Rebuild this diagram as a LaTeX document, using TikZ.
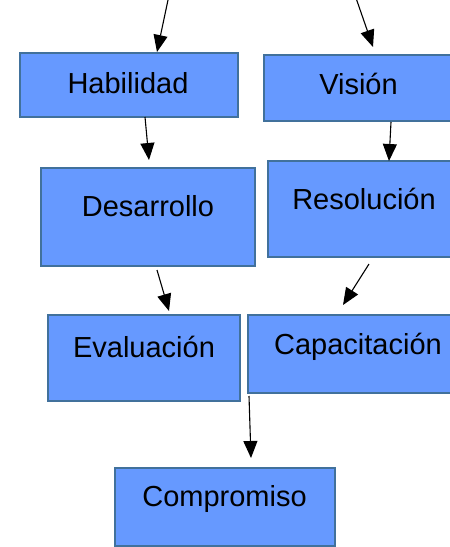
\documentclass[tikz,border=0pt]{standalone}
\usepackage{fontspec}
\setmainfont{Liberation Sans}
\usetikzlibrary{arrows.meta}
\definecolor{boxfill}{HTML}{6699FF}
\definecolor{boxline}{HTML}{41719C}
\tikzset{
  box/.style={draw=boxline, line width=2pt, fill=boxfill, rectangle, inner sep=0pt},
  txt/.style={anchor=base, inner sep=0pt, font=\fontsize{29}{34}\selectfont},
  arr/.style={-{Triangle[length=17pt,width=14pt]}, line width=1.1pt, shorten >=0pt}
}
\begin{document}
\begin{tikzpicture}[x=1pt,y=-1pt]
\useasboundingbox (0,0) rectangle (450,547);
\clip (0,0) rectangle (450,547);
% boxes
\node[box, minimum width=218pt, minimum height=64pt] (hab) at (129,85) {};
\node[box, minimum width=200pt, minimum height=66pt] (vis) at (364,88) {};
\node[box, minimum width=214pt, minimum height=98pt] (des) at (148,217) {};
\node[box, minimum width=200pt, minimum height=96pt] (res) at (368,209) {};
\node[box, minimum width=192pt, minimum height=86pt] (eva) at (144,358) {};
\node[box, minimum width=220pt, minimum height=78pt] (cap) at (358,354) {};
\node[box, minimum width=220pt, minimum height=78pt] (com) at (225,507) {};
% texts
\node[txt] (thab) at (128,93) {Habilidad};
\node[txt] (tvis) at (358.5,94) {Visión};
\node[txt] (tdes) at (148,216) {Desarrollo};
\node[txt] (tres) at (364,209) {Resolución};
\node[txt] (teva) at (144,357) {Evaluación};
\node[txt] (tcap) at (358,354) {Capacitación};
\node[txt] (tcom) at (224.5,506) {Compromiso};
% free ends
\coordinate (in1) at (168,0);
\coordinate (in2) at (356,-2);
\coordinate (tip1) at (157,52);
\coordinate (tip2) at (373,47);
\coordinate (habo) at (145,117);
\coordinate (desi) at (149,160);
\coordinate (viso) at (391,122);
\coordinate (resi) at (389,161);
\coordinate (deso) at (157,270);
\coordinate (evai) at (169,311);
\coordinate (reso) at (369,264);
\coordinate (capi) at (343,305);
\coordinate (capo) at (249,396);
\coordinate (comi) at (251,458);
% connectors
\draw[arr] (in1) -- (tip1);
\draw[arr] (in2) -- (tip2);
\draw[arr] (habo) -- (desi);
\draw[arr] (viso) -- (resi);
\draw[arr] (deso) -- (evai);
\draw[arr] (reso) -- (capi);
\draw[arr] (capo) -- (comi);
\end{tikzpicture}
\end{document}
